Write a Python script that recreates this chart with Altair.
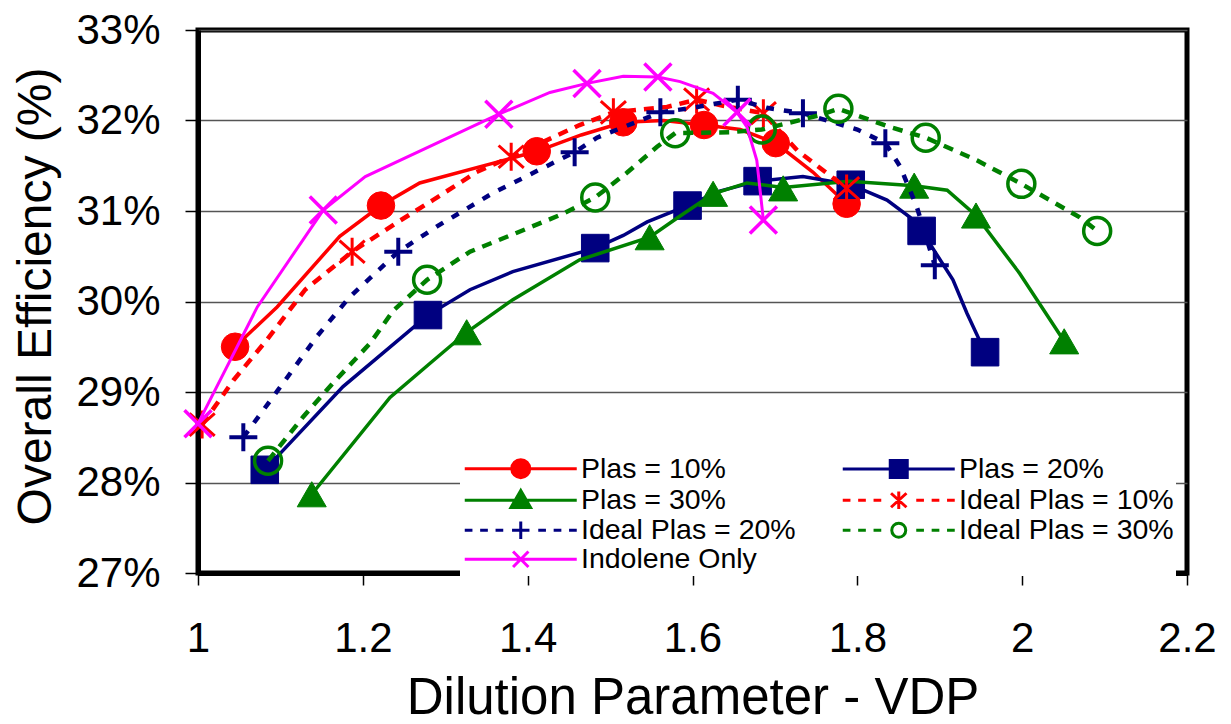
import altair as alt
import pandas as pd

SERIES = ["Plas = 10%", "Plas = 20%", "Plas = 30%", "Ideal Plas = 10%",
          "Ideal Plas = 20%", "Ideal Plas = 30%", "Indolene Only"]
COLORS = ["#FF0000", "#000080", "#008000", "#FF0000", "#000080", "#008000", "#FF00FF"]

# ---- marker values (VDP, efficiency %) ----
p10_mx = [1.045, 1.222, 1.411, 1.516, 1.614, 1.701, 1.787]
p10_my = [29.50, 31.06, 31.66, 31.98, 31.95, 31.75, 31.08]
p20_mx = [1.081, 1.279, 1.482, 1.594, 1.679, 1.792, 1.878, 1.955]
p20_my = [28.14, 29.85, 30.59, 31.06, 31.33, 31.29, 30.78, 29.44]
p30_mx = [1.138, 1.326, 1.548, 1.625, 1.710, 1.869, 1.944, 2.051]
p30_my = [27.87, 29.66, 30.71, 31.19, 31.25, 31.28, 30.95, 29.56]
i10_mx = [1.005, 1.187, 1.380, 1.504, 1.605, 1.686, 1.787]
i10_my = [28.64, 30.55, 31.60, 32.09, 32.23, 32.08, 31.25]
i20_mx = [1.055, 1.243, 1.457, 1.561, 1.655, 1.734, 1.834, 1.894]
i20_my = [28.50, 30.55, 31.65, 32.09, 32.23, 32.08, 31.75, 30.40]
i30_mx = [1.085, 1.278, 1.482, 1.579, 1.684, 1.777, 1.883, 1.999, 2.091]
i30_my = [28.24, 30.24, 31.15, 31.86, 31.90, 32.13, 31.81, 31.30, 30.78]
ind_mx = [1.000, 1.152, 1.365, 1.472, 1.558, 1.654, 1.686]
ind_my = [28.65, 31.01, 32.07, 32.41, 32.48, 32.09, 30.90]

# ---- curve vertices ----
p10_lx = [1.045, 1.096, 1.172, 1.222, 1.269, 1.363, 1.411, 1.465, 1.516, 1.565, 1.614, 1.658, 1.701, 1.746, 1.787]
p10_ly = [29.50, 29.94, 30.72, 31.06, 31.31, 31.54, 31.66, 31.84, 31.98, 32.00, 31.95, 31.90, 31.75, 31.43, 31.08]
p20_lx = [1.081, 1.176, 1.279, 1.330, 1.382, 1.482, 1.516, 1.545, 1.594, 1.633, 1.679, 1.734, 1.792, 1.836, 1.864, 1.878, 1.916, 1.933, 1.955]
p20_ly = [28.14, 29.06, 29.85, 30.13, 30.33, 30.59, 30.73, 30.88, 31.06, 31.22, 31.33, 31.38, 31.29, 31.12, 30.93, 30.78, 30.24, 29.87, 29.44]
p30_lx = [1.138, 1.233, 1.282, 1.326, 1.382, 1.463, 1.548, 1.581, 1.625, 1.666, 1.710, 1.790, 1.869, 1.909, 1.944, 1.997, 2.051]
p30_ly = [27.87, 28.94, 29.32, 29.66, 30.02, 30.46, 30.71, 30.92, 31.19, 31.31, 31.26, 31.33, 31.28, 31.23, 30.95, 30.31, 29.56]
i10_lx = [1.005, 1.043, 1.083, 1.130, 1.187, 1.241, 1.285, 1.338, 1.380, 1.463, 1.504, 1.569, 1.605, 1.633, 1.686, 1.727, 1.787]
i10_ly = [28.64, 29.13, 29.57, 30.13, 30.55, 30.87, 31.12, 31.43, 31.60, 31.95, 32.09, 32.15, 32.23, 32.17, 32.08, 31.67, 31.25]
i20_lx = [1.055, 1.097, 1.144, 1.184, 1.243, 1.290, 1.358, 1.413, 1.457, 1.484, 1.561, 1.600, 1.655, 1.690, 1.734, 1.800, 1.834, 1.852, 1.872, 1.894]
i20_ly = [28.50, 29.02, 29.61, 30.05, 30.55, 30.83, 31.20, 31.45, 31.65, 31.81, 32.09, 32.14, 32.23, 32.14, 32.08, 31.90, 31.75, 31.49, 31.05, 30.40]
i30_lx = [1.085, 1.128, 1.164, 1.209, 1.237, 1.278, 1.330, 1.387, 1.443, 1.482, 1.520, 1.557, 1.579, 1.645, 1.684, 1.755, 1.777, 1.839, 1.883, 1.945, 1.999, 2.070, 2.091]
i30_ly = [28.24, 28.73, 29.10, 29.54, 29.90, 30.24, 30.55, 30.76, 30.97, 31.15, 31.42, 31.71, 31.86, 31.87, 31.90, 32.06, 32.13, 31.93, 31.81, 31.56, 31.30, 30.93, 30.78]
ind_lx = [1.000, 1.072, 1.152, 1.203, 1.365, 1.427, 1.472, 1.516, 1.558, 1.585, 1.625, 1.654, 1.666, 1.678, 1.686]
ind_ly = [28.65, 29.94, 31.01, 31.38, 32.07, 32.31, 32.41, 32.49, 32.48, 32.43, 32.30, 32.09, 31.93, 31.56, 30.90]

MARKERS = [(p10_mx, p10_my), (p20_mx, p20_my), (p30_mx, p30_my), (i10_mx, i10_my),
           (i20_mx, i20_my), (i30_mx, i30_my), (ind_mx, ind_my)]
LINES = [(p10_lx, p10_ly), (p20_lx, p20_ly), (p30_lx, p30_ly), (i10_lx, i10_ly),
         (i20_lx, i20_ly), (i30_lx, i30_ly), (ind_lx, ind_ly)]

X_TICKS = [1, 1.2, 1.4, 1.6, 1.8, 2, 2.2]
Y_TICKS = [27, 28, 29, 30, 31, 32, 33]

mrows, lrows = [], []
for s, (xs, ys) in zip(SERIES, MARKERS):
    for x, y in zip(xs, ys):
        mrows.append({"series": s, "x": x, "y": y})
for s, (xs, ys) in zip(SERIES, LINES):
    for k, (x, y) in enumerate(zip(xs, ys)):
        lrows.append({"series": s, "x": x, "y": y, "k": k})
mdf = pd.DataFrame(mrows)
ldf = pd.DataFrame(lrows)

FONT = "Liberation Sans"

xenc = alt.X("x:Q", scale=alt.Scale(domain=[1, 2.2], nice=False, zero=False),
             axis=alt.Axis(values=X_TICKS, format="~g", labelFontSize=42, labelPadding=33,
                           labelFlush=False, labelOverlap=False, tickSize=12, tickWidth=1.5,
                           tickColor="black", domainColor="black", domainWidth=5, grid=False,
                           labelColor="black", title="Dilution Parameter - VDP",
                           titleFontSize=51, titleFontWeight="normal", titleColor="black",
                           titleBaseline="alphabetic", titleY=140))
yenc = alt.Y("y:Q", scale=alt.Scale(domain=[27, 33], nice=False, zero=False),
             axis=alt.Axis(values=Y_TICKS, labelExpr="datum.value + '%'", labelFontSize=42,
                           labelPadding=25, labelFlush=False, labelOverlap=False, tickSize=13,
                           tickWidth=1.5, tickColor="black", domainColor="black", domainWidth=5,
                           grid=True, gridColor="#555555", gridWidth=1.6, labelColor="black",
                           title="Overall Efficiency (%)", titleFontSize=48,
                           titleFontWeight="normal", titleColor="black", titleAngle=270,
                           titleX=-148, titleY=266, titleBaseline="alphabetic", titleAlign="center"))

P_X = "M-1,-1L1,1M-1,1L1,-1"
P_PLUS = "M-1,0L1,0M0,-1L0,1"
P_STAR = "M-0.9,-0.8L0.9,0.8M-0.9,0.8L0.9,-0.8M0,-1L0,1"
# (shape, size, filled, strokeWidth)
MSTYLE = [("circle", 760, True, 1), ("square", 760, True, 1), ("triangle-up", 841, True, 1),
          (P_STAR, 784, False, 3), (P_PLUS, 784, False, 4), ("circle", 729, False, 3.5),
          (P_X, 729, False, 3.5)]
DASH = [None, None, None, [10, 8], [8, 10], [10, 8], None]
LW = [3.5, 3.5, 3.5, 4.5, 4.5, 4.5, 3]

layers = []
for i, s in enumerate(SERIES):
    lk = dict(color=COLORS[i], strokeWidth=LW[i])
    if DASH[i]:
        lk["strokeDash"] = DASH[i]
    layers.append(alt.Chart(ldf).transform_filter(alt.datum.series == s)
                  .mark_line(**lk).encode(x=xenc, y=yenc, order="k:Q"))
    shp, sz, filled, sw = MSTYLE[i]
    if filled:
        pm = alt.Chart(mdf).mark_point(shape=shp, size=sz, filled=True, fill=COLORS[i],
                                        stroke=COLORS[i], strokeWidth=sw, opacity=1)
    else:
        pm = alt.Chart(mdf).mark_point(shape=shp, size=sz, filled=False, color=COLORS[i],
                                        strokeWidth=sw, opacity=1)
    layers.append(pm.transform_filter(alt.datum.series == s).encode(x=xenc, y=yenc))

# ---- legend symbols: line sample + marker, units of 10 px ----
def circ(r):
    return f"M{-r},0A{r},{r} 0 1,0 {r},0A{r},{r} 0 1,0 {-r},0Z"

def box(h):
    return f"M{-h},{-h}L{h},{-h}L{h},{h}L{-h},{h}Z"

def dashes(half, seg, gap, inner):
    parts, a = [], half
    while a - seg >= inner - 0.01:
        parts.append(f"M{-a:.2f},0L{-(a - seg):.2f},0M{a - seg:.2f},0L{a:.2f},0")
        a -= seg + gap
    return "".join(parts)

L_SOLID = "M-5.6,0L5.6,0"
L_DASH = dashes(5.6, 0.77, 0.77, 1.7)
LEG_SHAPE_OF = {
    "Plas = 10%": L_SOLID + circ(0.9),
    "Plas = 20%": L_SOLID + box(0.85),
    "Plas = 30%": L_SOLID + "M0,-0.98L0.98,0.73L-0.98,0.73Z",
    "Ideal Plas = 10%": L_DASH + "M-0.77,-0.7L0.77,0.7M-0.77,0.7L0.77,-0.7M0,-0.87L0,0.87",
    "Ideal Plas = 20%": L_DASH + "M-0.87,0L0.87,0M0,-0.87L0,0.87",
    "Ideal Plas = 30%": L_DASH + circ(0.7),
    "Indolene Only": L_SOLID + "M-0.77,-0.77L0.77,0.77M-0.77,0.77L0.77,-0.77",
}
LEG_FILL_OF = {"Plas = 10%": "#FF0000", "Plas = 20%": "#000080", "Plas = 30%": "#008000",
               "Ideal Plas = 10%": "transparent", "Ideal Plas = 20%": "transparent",
               "Ideal Plas = 30%": "white", "Indolene Only": "transparent"}
COLOR_OF = dict(zip(SERIES, COLORS))
# legend entries fill column by column: left column then right column
LEG_ORDER = ["Plas = 10%", "Plas = 30%", "Ideal Plas = 20%", "Indolene Only",
             "Plas = 20%", "Ideal Plas = 10%", "Ideal Plas = 30%"]

leg = alt.Legend(title=None, orient="none", legendX=262, legendY=422, columns=2,
                 symbolSize=400, symbolStrokeWidth=3, symbolOffset=44.5, labelOffset=46,
                 labelFontSize=28.5, labelFont=FONT, labelColor="black", labelLimit=500,
                 rowPadding=0, columnPadding=40, padding=2, fillColor="white",
                 labelBaseline="middle")
legend_layer = (alt.Chart(mdf).transform_filter("datum.x > 100")
                .mark_point(size=400, strokeWidth=3, opacity=1)
                .encode(x=xenc, y=yenc,
                        stroke=alt.Stroke("series:N", scale=alt.Scale(domain=LEG_ORDER, range=[COLOR_OF[s] for s in LEG_ORDER]), legend=leg),
                        fill=alt.Fill("series:N", scale=alt.Scale(domain=LEG_ORDER, range=[LEG_FILL_OF[s] for s in LEG_ORDER]), legend=leg),
                        shape=alt.Shape("series:N", scale=alt.Scale(domain=LEG_ORDER, range=[LEG_SHAPE_OF[s] for s in LEG_ORDER]), legend=leg)))
layers.append(legend_layer)

chart = (alt.layer(*layers)
         .properties(width=989, height=543, background="white",
                     autosize=alt.AutoSizeParams(type="none"),
                     padding={"left": 198, "top": 30, "right": 44, "bottom": 151})
         .configure(font=FONT)
         .configure_view(stroke="black", strokeWidth=5)
         .configure_axis(labelFont=FONT, titleFont=FONT))

chart.save("out.html", embed_options={"renderer": "svg", "actions": False})
